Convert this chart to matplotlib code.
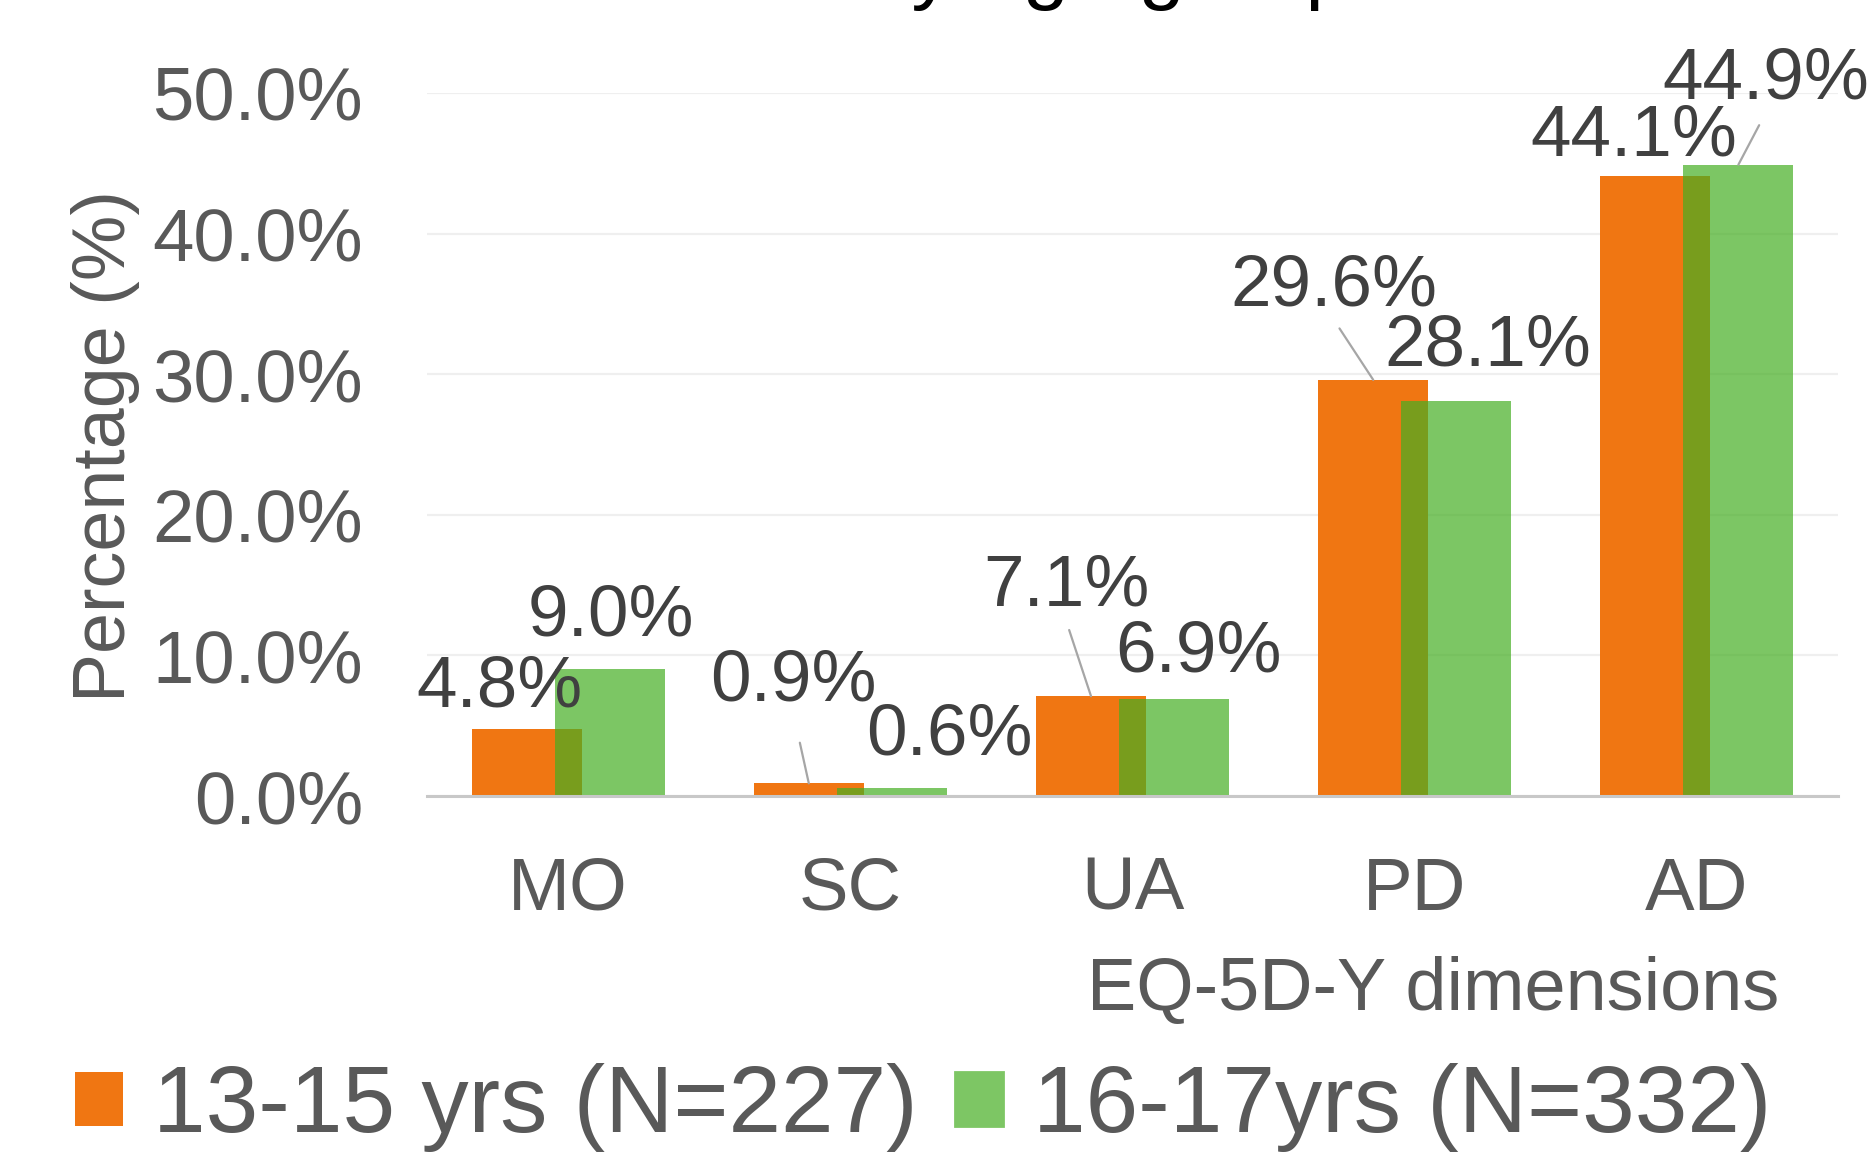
import matplotlib
matplotlib.use("Agg")
import matplotlib.pyplot as plt
from matplotlib.ticker import PercentFormatter

plt.rcParams['font.family'] = ['Liberation Sans', 'DejaVu Sans']

# data
dimensions = ['MO', 'SC', 'UA', 'PD', 'AD']
young = [4.8, 0.9, 7.1, 29.6, 44.1]   # 13-15 yrs
older = [9.0, 0.6, 6.9, 28.1, 44.9]   # 16-17 yrs
series_labels = ['13-15 yrs (N=227)', '16-17yrs (N=332)']

# label placement (offset in points from bar top) and leader lines
young_off = [(-9.7, 14.6), (-5.4, 36.5), (-9.0, 39.3), (-14.0, 33.4), (-7.9, 14.0)]
older_off = [(0.4, 18.9), (20.9, 18.6), (9.0, 16.6), (11.5, 19.4), (9.7, 30.5)]
young_leader = [False, True, True, True, False]
older_leader = [False, False, False, False, True]
young_shrink = [2, 8, 1.5, 1, 2]
older_shrink = [2, 2, 2, 2, 2.5]

orange = '#F07612'
green = '#45AE22'
grey_text = '#595959'
label_text = '#404040'

fig = plt.figure(figsize=(9.36, 5.76), dpi=200)
ax = fig.add_axes([427 / 1872, 1 - 796 / 1152, 1411 / 1872, 703 / 1152])

x = list(range(len(dimensions)))
width = 0.39
shift = 0.147
b1 = ax.bar([i - shift for i in x], young, width, color=orange, zorder=2,
            label=series_labels[0])
b2 = ax.bar([i + shift for i in x], older, width, color=green, alpha=0.7,
            zorder=3, label=series_labels[1])


def add_labels(bars, values, offsets, leaders, shrinks):
    for bar, v, off, lead, sh in zip(bars, values, offsets, leaders, shrinks):
        xc = bar.get_x() + bar.get_width() / 2
        props = None
        if lead:
            props = dict(arrowstyle='-', color='#A6A6A6', lw=0.8,
                         relpos=(0.5, 0), shrinkA=sh, shrinkB=0)
        ax.annotate(f'{v:.1f}%', xy=(xc, v), xytext=off,
                    textcoords='offset points', ha='center', va='center',
                    fontsize=26.3, color=label_text, arrowprops=props,
                    zorder=5)


add_labels(b1, young, young_off, young_leader, young_shrink)
add_labels(b2, older, older_off, older_leader, older_shrink)

ax.set_xlim(-0.5, 4.5)
ax.set_ylim(0, 50)
ax.set_yticks([0, 10, 20, 30, 40, 50])
ax.yaxis.set_major_formatter(PercentFormatter(decimals=1))
ax.set_xticks(x)
ax.set_xticklabels(dimensions)
ax.tick_params(axis='both', length=0, labelsize=26.8, labelcolor=grey_text)
ax.tick_params(axis='x', pad=21.5)
ax.tick_params(axis='y', pad=23)
ax.grid(axis='y', color='#EFEFEF', lw=0.8, zorder=0)
ax.set_axisbelow(True)
for s in ['left', 'right', 'top']:
    ax.spines[s].set_visible(False)
ax.spines['bottom'].set_color('#C8C8C8')
ax.spines['bottom'].set_linewidth(1.1)
ax.spines['bottom'].set_zorder(4)

fig.text(105 / 1872, 1 - 446 / 1152, 'Percentage (%)', rotation=90,
         ha='center', va='center', fontsize=26.5, color=grey_text)
fig.text(1433 / 1872, 1 - 991 / 1152, 'EQ-5D-Y dimensions',
         ha='center', va='center', fontsize=26.6, color=grey_text)

# title is cut off at the top edge of the image
fig.text(1108 / 1872, 1 + 6 / 1152, 'by age group', ha='center',
         va='baseline', fontsize=30, color='black')

leg = fig.legend(handles=[b1, b2], loc='center left',
                 bbox_to_anchor=(75 / 1872, 1 - 1108 / 1152), ncol=2,
                 frameon=False, fontsize=34, borderpad=0, borderaxespad=0,
                 handlelength=0.51, handleheight=0.5, handletextpad=0.32,
                 columnspacing=0.39)
for t in leg.get_texts():
    t.set_color(grey_text)
for h in leg.legend_handles:
    h.set_alpha(None)
leg.legend_handles[1].set_color('#7DC664')

fig.savefig('out.png', dpi=200)
